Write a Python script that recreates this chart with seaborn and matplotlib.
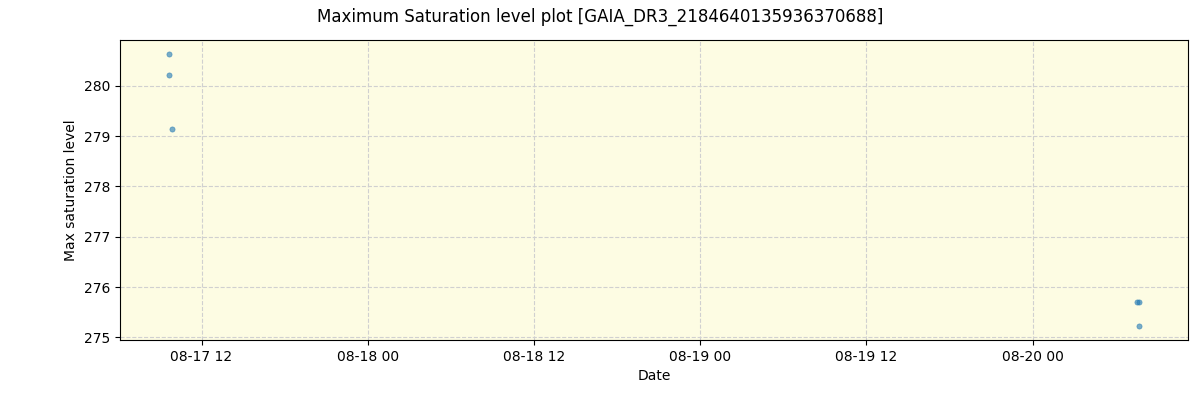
import pandas as pd
import matplotlib
matplotlib.use("Agg")
import matplotlib.pyplot as plt
import matplotlib.dates as mdates
import seaborn as sns

obs_times = ["2023-08-17 09:41", "2023-08-17 09:37", "2023-08-17 09:50",
             "2023-08-20 07:32", "2023-08-20 07:43", "2023-08-20 07:40"]
max_sat = [280.64, 280.22, 279.14, 275.70, 275.70, 275.22]

df = pd.DataFrame({"Date": pd.to_datetime(obs_times), "level": max_sat})

sns.set_style("ticks", rc={"text.color": "black", "axes.labelcolor": "black",
                           "xtick.color": "black", "ytick.color": "black",
                           "axes.edgecolor": "black"})
fig, ax = plt.subplots(figsize=(12, 4), dpi=100)
fig.subplots_adjust(left=0.1, right=0.99, top=0.9, bottom=0.15)

ax.set_facecolor("#fdfce3")
sns.scatterplot(data=df, x="Date", y="level", ax=ax, s=14, color="#1f77b4",
                alpha=0.6, edgecolor="#1f77b4", linewidth=0.5, zorder=3)
ax.grid(True, linestyle="--", color="#d0d0d0", linewidth=0.8)
ax.xaxis.set_major_formatter(mdates.DateFormatter("%m-%d %H"))
ax.xaxis.set_major_locator(mdates.HourLocator(byhour=[0, 12]))
ax.set_xlabel("Date")
ax.set_ylabel("Max saturation level")
fig.suptitle("Maximum Saturation level plot [GAIA_DR3_2184640135936370688]", fontsize=12)

fig.savefig("out.png")
